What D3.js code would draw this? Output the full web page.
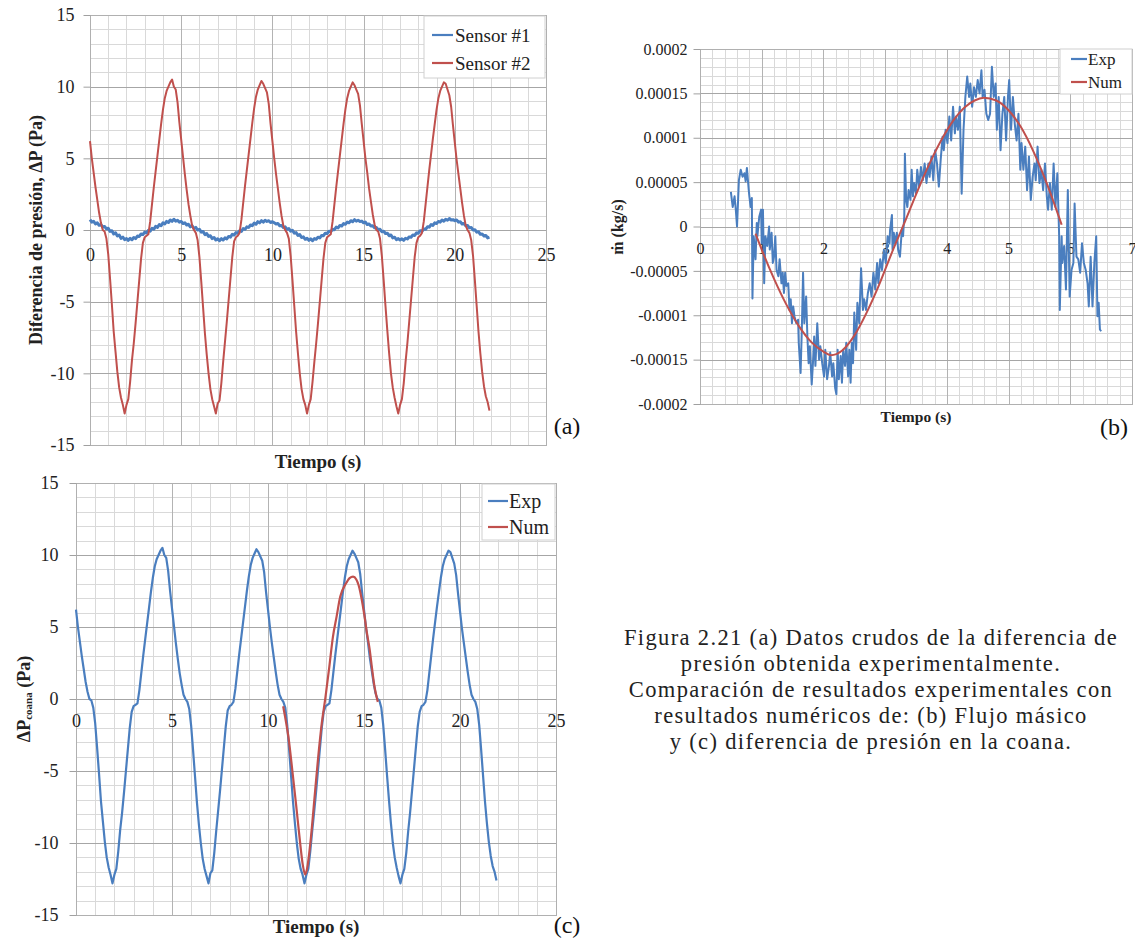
<!DOCTYPE html>
<html><head><meta charset="utf-8">
<script src="https://cdn.jsdelivr.net/npm/d3@7"></script>
<style>
html,body{margin:0;padding:0;background:#fff;}
svg{display:block;}
</style></head><body>
<svg id="fig" width="1135" height="938"></svg>
<script>
// ---------------- DATA ----------------
// Panel (a) & (c): time axis ticks and pressure ticks
const xTicksAC = [0, 5, 10, 15, 20, 25];
const yTicksAC = [-15, -10, -5, 0, 5, 10, 15];
// sample step of the pressure recordings (s)
const sampleStep = 0.1;
// Sensor #1 (Pa), samples every 0.1 s from t = 0
const sensor1 = [
 0.72,0.55,0.6,0.42,0.5,0.33,0.38,0.2,0.25,0.08, 0.12,-0.1,-0.05,-0.28,-0.2,-0.42,-0.35,-0.58,-0.5,-0.68,
 -0.6,-0.72,-0.58,-0.68,-0.52,-0.6,-0.42,-0.45,-0.28,-0.32, -0.15,-0.2,-0.02,-0.08,0.12,0.05,0.25,0.18,0.38,0.3,
 0.5,0.42,0.6,0.52,0.7,0.6,0.75,0.62,0.68,0.55,
 0.6,0.45,0.5,0.35,0.4,0.22,0.3,0.1,0.18,0.0, 0.05,-0.15,-0.1,-0.32,-0.25,-0.45,-0.4,-0.6,-0.52,-0.7,
 -0.62,-0.75,-0.6,-0.7,-0.55,-0.62,-0.45,-0.5,-0.3,-0.35, -0.18,-0.22,-0.05,-0.1,0.1,0.05,0.22,0.18,0.35,0.3,
 0.48,0.4,0.58,0.5,0.65,0.55,0.68,0.6,0.65,0.52,
 0.58,0.5,0.42,0.45,0.3,0.32,0.18,0.22,0.05,0.1, -0.08,-0.02,-0.22,-0.18,-0.38,-0.32,-0.52,-0.48,-0.65,-0.58,
 -0.72,-0.62,-0.75,-0.6,-0.65,-0.5,-0.55,-0.38,-0.4,-0.22, -0.25,-0.08,-0.12,0.05,0.02,0.2,0.15,0.32,0.28,0.45,
 0.4,0.55,0.5,0.65,0.58,0.72,0.62,0.68,0.6,0.62,
 0.5,0.55,0.38,0.42,0.28,0.3,0.15,0.18,0.02,0.05, -0.12,-0.08,-0.25,-0.22,-0.4,-0.35,-0.55,-0.5,-0.68,-0.6,
 -0.7,-0.62,-0.72,-0.58,-0.62,-0.48,-0.5,-0.35,-0.38,-0.2, -0.22,-0.05,-0.1,0.08,0.05,0.22,0.2,0.38,0.32,0.5,
 0.45,0.6,0.55,0.7,0.62,0.75,0.68,0.8,0.7,0.72,
 0.65,0.7,0.55,0.58,0.42,0.45,0.3,0.32,0.15,0.18, 0.0,0.02,-0.15,-0.12,-0.3,-0.28,-0.42,-0.38,-0.55,-0.5
];
// Sensor #2 (Pa), samples every 0.1 s from t = 0 (also the "Exp" curve of panel c)
const sensor2 = [
 6.2,5.0,4.0,3.0,2.1,1.2,0.5,0.0,-0.1,-0.6, -1.7,-3.4,-5.2,-7.1,-8.5,-9.9,-11.0,-11.7,-12.2,-12.8,
 -12.2,-11.8,-10.6,-9.1,-7.9,-6.5,-5.0,-3.5,-2.0,-0.9, -0.5,-0.4,-0.3,0.6,1.8,3.0,4.1,5.2,6.3,7.4,
 8.4,9.2,9.7,10.0,10.3,10.5,10.0,9.8,8.9,7.5,
 6.3,5.1,3.9,2.8,1.8,1.0,0.3,0.0,-0.2,-0.7, -1.9,-3.6,-5.4,-7.2,-8.7,-10.0,-11.1,-11.8,-12.3,-12.8,
 -12.1,-11.9,-10.7,-9.2,-7.8,-6.4,-4.9,-3.4,-1.9,-0.8, -0.5,-0.4,-0.2,0.7,1.9,3.1,4.2,5.3,6.4,7.5,
 8.5,9.3,9.8,10.1,10.4,10.2,9.9,9.6,8.8,7.4,
 6.2,5.0,3.9,2.9,1.9,1.0,0.3,0.0,-0.2,-0.6, -1.8,-3.5,-5.3,-7.1,-8.6,-10.0,-11.1,-11.8,-12.2,-12.8,
 -12.2,-11.8,-10.6,-9.2,-7.9,-6.5,-5.0,-3.5,-2.0,-0.9, -0.5,-0.4,-0.3,0.6,1.8,3.0,4.1,5.2,6.3,7.4,
 8.4,9.2,9.7,10.0,10.3,10.1,9.8,9.5,8.7,7.4,
 6.2,5.0,4.0,2.9,2.0,1.1,0.4,0.0,-0.1,-0.6, -1.8,-3.5,-5.3,-7.0,-8.6,-10.0,-11.0,-11.7,-12.3,-12.8,
 -12.2,-11.8,-10.7,-9.2,-7.9,-6.4,-4.9,-3.4,-1.9,-0.9, -0.5,-0.4,-0.2,0.6,1.8,3.0,4.2,5.3,6.4,7.4,
 8.4,9.2,9.7,10.0,10.3,10.2,9.8,9.4,8.6,7.3,
 6.1,4.9,3.9,2.9,1.9,1.0,0.3,0.0,-0.2,-0.7, -1.8,-3.5,-5.3,-7.1,-8.6,-9.9,-10.9,-11.6,-12.0,-12.6
];
const coanaExp = sensor2;
// Panel (c) numerical coana pressure: [t (s), ΔP (Pa)]
const coanaNum = [
 [10.79,-0.5],[10.9,-1.3],[11.07,-2.7],[11.27,-5.0],[11.46,-7.3],[11.65,-9.7],[11.81,-11.5],[11.94,-12.2],
 [12.07,-11.5],[12.23,-9.7],[12.42,-6.9],[12.61,-4.1],[12.8,-1.7],[12.99,0.1],[13.19,2.2],[13.38,4.3],
 [13.57,5.7],[13.76,7.1],[14.05,8.0],[14.25,8.4],[14.43,8.5],[14.6,8.3],[14.72,7.9],[14.87,7.0],
 [15.01,5.9],[15.15,4.6],[15.3,3.4],[15.42,2.1],[15.53,1.0],[15.63,0.3],[15.72,-0.2]
];
// Panel (b): ticks
const xTicksB = [0, 1, 2, 3, 4, 5, 6, 7];
const yTicksB = [-0.0002, -0.00015, -0.0001, -0.00005, 0, 0.00005, 0.0001, 0.00015, 0.0002];
const massUnit = 1e-5; // values below are in 1e-5 kg/s
// Panel (b) experimental mass flow: [t (s), ṁ (1e-5 kg/s)]
const massExp = [
 [0.50,3.9],[0.53,2.2],[0.56,3.4],[0.58,1.9],[0.60,0.0],[0.63,5.2],[0.66,6.4],[0.69,5.6],[0.72,6.0],[0.74,5.1],
 [0.76,6.6],[0.79,4.1],[0.80,3.4],[0.82,2.2],[0.84,3.2],[0.85,-8.1],[0.87,-1.1],[0.90,-3.7],[0.92,0.4],[0.93,-1.1],
 [0.96,1.1],[0.99,1.9],[1.00,-1.9],[1.02,1.9],[1.04,-6.4],[1.06,-1.1],[1.09,-2.2],[1.12,0.0],[1.13,-2.6],[1.16,-0.7],
 [1.18,-4.1],[1.20,-3.4],[1.22,-1.1],[1.24,-4.9],[1.27,-5.6],[1.29,-3.7],[1.32,-6.4],[1.34,-5.2],[1.36,-7.5],[1.38,-5.2],
 [1.40,-6.7],[1.43,-6.4],[1.45,-9.4],[1.47,-8.2],[1.49,-10.9],[1.51,-9.0],[1.53,-10.1],[1.56,-10.9],[1.59,-10.5],[1.60,-13.1],
 [1.63,-16.5],[1.65,-11.6],[1.67,-5.2],[1.69,-10.9],[1.72,-7.9],[1.74,-12.4],[1.76,-15.4],[1.78,-13.5],[1.81,-17.8],[1.83,-15.4],
 [1.85,-12.4],[1.87,-15.7],[1.90,-10.9],[1.93,-15.0],[1.95,-13.5],[1.98,-15.4],[2.01,-16.9],[2.03,-13.9],[2.06,-17.2],[2.09,-15.7],
 [2.11,-14.2],[2.14,-16.9],[2.16,-15.4],[2.19,-18.2],[2.21,-18.9],[2.23,-13.9],[2.25,-17.2],[2.28,-14.6],[2.30,-17.6],[2.32,-13.9],
 [2.35,-15.7],[2.37,-13.1],[2.40,-16.9],[2.42,-13.9],[2.44,-17.6],[2.46,-13.1],[2.48,-15.4],[2.50,-9.7],[2.53,-13.9],[2.55,-8.6],
 [2.58,-10.9],[2.61,-4.7],[2.64,-9.4],[2.66,-8.2],[2.69,-9.4],[2.72,-7.5],[2.75,-6.4],[2.78,-7.9],[2.81,-5.2],[2.84,-7.1],
 [2.87,-4.1],[2.89,-6.4],[2.92,-3.7],[2.95,-4.9],[2.98,-2.6],[3.01,-4.1],[3.04,-1.1],[3.07,-1.9],[3.08,-0.4],[3.11,1.3],
 [3.12,-2.6],[3.14,-0.7],[3.16,-1.9],[3.19,-0.7],[3.21,-2.6],[3.24,-3.4],[3.27,-0.4],[3.29,-1.1],[3.31,1.1],[3.32,8.2],
 [3.34,3.0],[3.36,2.2],[3.38,4.1],[3.41,3.0],[3.43,6.4],[3.45,3.4],[3.47,4.9],[3.50,3.7],[3.52,6.4],[3.55,4.5],
 [3.58,6.7],[3.61,5.2],[3.64,7.1],[3.67,4.9],[3.70,7.1],[3.72,5.6],[3.75,7.9],[3.78,5.2],[3.81,8.6],[3.84,7.1],
 [3.87,4.5],[3.90,7.5],[3.93,10.1],[3.95,8.6],[3.98,10.9],[4.01,9.4],[4.04,12.4],[4.07,9.7],[4.10,13.5],[4.13,10.5],
 [4.15,12.4],[4.18,10.9],[4.21,13.5],[4.24,3.7],[4.27,10.9],[4.30,14.6],[4.33,16.9],[4.36,14.6],[4.38,16.1],[4.41,13.5],
 [4.44,15.7],[4.47,14.6],[4.50,16.5],[4.53,15.0],[4.56,17.6],[4.58,14.6],[4.61,15.4],[4.64,12.7],[4.67,12.0],[4.70,12.7],
 [4.73,18.0],[4.76,14.6],[4.79,16.1],[4.81,10.9],[4.84,14.6],[4.87,8.6],[4.90,12.7],[4.93,14.6],[4.96,9.7],[4.99,14.6],
 [5.01,16.5],[5.04,10.9],[5.07,14.6],[5.10,11.6],[5.13,9.7],[5.16,12.7],[5.19,6.4],[5.21,9.4],[5.24,6.4],[5.27,9.0],
 [5.30,4.1],[5.33,7.9],[5.36,3.0],[5.39,5.6],[5.42,7.1],[5.44,5.2],[5.47,9.0],[5.50,4.9],[5.53,6.4],[5.56,4.1],
 [5.59,7.1],[5.62,3.4],[5.64,1.9],[5.67,4.9],[5.70,1.9],[5.73,7.1],[5.76,2.2],[5.79,6.0],[5.82,-1.1],[5.83,-9.4],
 [5.86,-1.1],[5.87,-4.1],[5.90,-2.2],[5.93,-7.1],[5.96,4.1],[5.99,-7.9],[6.02,-4.9],[6.05,-4.1],[6.07,2.6],[6.10,-3.4],
 [6.13,-3.7],[6.16,-5.2],[6.19,-1.9],[6.22,-4.1],[6.25,-4.9],[6.28,-6.4],[6.30,-9.0],[6.33,-3.4],[6.36,-9.0],[6.39,-4.1],
 [6.42,-1.1],[6.44,-10.1],[6.46,-8.6],[6.48,-11.6],[6.50,-11.8]
];
// Panel (b) numerical mass flow: [t (s), ṁ (1e-5 kg/s)]
const massNum = [
 [0.9,-0.8],[1.0,-2.6],[1.2,-5.9],[1.4,-8.8],[1.6,-11.2],[1.8,-13.0],[2.0,-14.1],[2.12,-14.5],[2.3,-14.0],
 [2.5,-12.3],[2.7,-9.7],[2.9,-6.6],[3.1,-3.1],[3.3,0.2],[3.5,3.6],[3.7,6.8],[3.9,9.6],[4.1,11.9],[4.3,13.5],
 [4.45,14.2],[4.6,14.5],[4.8,14.2],[5.0,13.1],[5.2,11.2],[5.4,8.5],[5.6,5.2],[5.8,1.4],[5.86,0.2]
];
const captionLines = [
 "Figura 2.21 (a) Datos crudos de la diferencia de",
 "presión obtenida experimentalmente.",
 "Comparación de resultados experimentales con",
 "resultados numéricos de: (b) Flujo másico",
 "y (c) diferencia de presión en la coana."
];

// ---------------- DRAWING ----------------
const BLUE = "#4a7ebf", RED = "#c0504d";
const FONT = "'Liberation Serif','Times New Roman',serif";
const svg = d3.select("#fig");
const crisp = v => Math.round(v) + 0.5;
const fmtNum = v => (Math.abs(v) < 1e-12 ? "0" : String(+v.toPrecision(6)));

function panel(p) {
  const g = svg.append("g");
  const x = d3.scaleLinear().domain(p.xDomain).range([p.left, p.right]);
  const y = d3.scaleLinear().domain(p.yDomain).range([p.bottom, p.top]);
  const grid = g.append("g");
  grid.selectAll(".vx").data(p.xMinor).join("line")
    .attr("x1", d => crisp(x(d))).attr("x2", d => crisp(x(d)))
    .attr("y1", p.top).attr("y2", p.bottom).attr("stroke", "#d9d9d9");
  grid.selectAll(".hy").data(p.yMinor).join("line")
    .attr("y1", d => crisp(y(d))).attr("y2", d => crisp(y(d)))
    .attr("x1", p.left).attr("x2", p.right).attr("stroke", "#d9d9d9");
  grid.selectAll(".mx").data(p.xTicks).join("line")
    .attr("x1", d => crisp(x(d))).attr("x2", d => crisp(x(d)))
    .attr("y1", p.top).attr("y2", p.bottom).attr("stroke", "#b3b3b3");
  grid.selectAll(".my").data(p.yTicks).join("line")
    .attr("y1", d => crisp(y(d))).attr("y2", d => crisp(y(d)))
    .attr("x1", p.left).attr("x2", p.right).attr("stroke", "#a6a6a6");
  g.append("rect").attr("x", crisp(p.left)).attr("y", crisp(p.top))
    .attr("width", Math.round(p.right - p.left)).attr("height", Math.round(p.bottom - p.top))
    .attr("fill", "none").attr("stroke", "#b0b0b0");

  // y axis labels
  const gy = g.append("g").attr("transform", `translate(${crisp(p.left)},0)`)
    .call(d3.axisLeft(y).tickValues(p.yTicks).tickFormat(fmtNum).tickSize(7).tickPadding(p.yPad));
  gy.select(".domain").remove();
  gy.attr("font-family", FONT).attr("font-size", p.tickFont);
  gy.selectAll(".tick line").attr("stroke", "#a0a0a0");
  gy.selectAll(".tick text").attr("fill", "#222");
  // x axis labels along y = 0
  const gx = g.append("g").attr("transform", `translate(0,${crisp(y(0))})`)
    .call(d3.axisBottom(x).tickValues(p.xTicks).tickFormat(fmtNum).tickSize(0).tickPadding(p.xPad));
  gx.select(".domain").remove();
  gx.attr("font-family", FONT).attr("font-size", p.tickFont);
  gx.selectAll(".tick text").attr("fill", "#222");

  // titles
  g.append("text").attr("x", p.xTitle[0]).attr("y", p.xTitle[1])
    .attr("text-anchor", "middle").attr("dominant-baseline", "central")
    .attr("font-family", FONT).attr("font-weight", "bold").attr("font-size", p.titleFont)
    .attr("fill", "#222").text("Tiempo (s)");
  const yt = g.append("text").attr("transform", `translate(${p.yTitle[0]},${p.yTitle[1]}) rotate(-90)`)
    .attr("text-anchor", "middle").attr("dominant-baseline", "central")
    .attr("font-family", FONT).attr("font-weight", "bold").attr("font-size", p.yTitleFont)
    .attr("fill", "#222");
  p.yTitleText(yt);

  // series
  const lineGen = d3.line().x(d => x(d[0])).y(d => y(d[1]));
  p.series.forEach(s => {
    g.append("path").datum(s.data).attr("fill", "none").attr("stroke", s.color)
      .attr("stroke-width", s.width).attr("stroke-linejoin", "round")
      .attr("d", lineGen.curve(s.smooth ? d3.curveMonotoneX : d3.curveLinear));
  });

  // legend
  const L = p.legend;
  const lg = g.append("g");
  lg.append("rect").attr("x", L.x).attr("y", L.y).attr("width", L.w).attr("height", L.h)
    .attr("fill", "#fff").attr("stroke", "#d0d0d0");
  p.series.forEach((s, i) => {
    const cy = L.y + L.first + i * L.gap;
    lg.append("line").attr("x1", L.x + L.lx1).attr("x2", L.x + L.lx2)
      .attr("y1", cy).attr("y2", cy).attr("stroke", s.color).attr("stroke-width", 2.2);
    lg.append("text").attr("x", L.x + L.tx).attr("y", cy).attr("dominant-baseline", "central")
      .attr("font-family", FONT).attr("font-size", L.font).attr("fill", "#222").text(s.name);
  });

  // panel letter
  svg.append("text").attr("x", p.letter[0]).attr("y", p.letter[1]).attr("text-anchor", "middle")
    .attr("dominant-baseline", "central").attr("font-family", FONT).attr("font-size", 24)
    .attr("fill", "#111").text(p.letterText);
}

const tSeries = arr => arr.map((v, i) => [i * sampleStep, v]);

// Panel (a)
panel({
  left: 90, right: 546, top: 15, bottom: 445,
  xDomain: [0, 25], yDomain: [-15, 15],
  xMinor: d3.range(0, 26, 1), yMinor: d3.range(-15, 16, 1),
  xTicks: xTicksAC, yTicks: yTicksAC,
  tickFont: 18, yPad: 9, xPad: 18,
  titleFont: 19, yTitleFont: 18,
  xTitle: [318, 461], yTitle: [36, 230],
  yTitleText: t => t.text("Diferencia de presión, ΔP (Pa)"),
  series: [
    {name: "Sensor #1", color: BLUE, width: 3, data: tSeries(sensor1)},
    {name: "Sensor #2", color: RED, width: 2, data: tSeries(sensor2)}
  ],
  legend: {x: 424, y: 16, w: 121, h: 62, first: 19, gap: 28, lx1: 8, lx2: 29, tx: 31, font: 19},
  letter: [567, 426], letterText: "(a)"
});

// Panel (b)
panel({
  left: 700, right: 1132, top: 49, bottom: 404,
  xDomain: [0, 7], yDomain: [-0.0002, 0.0002],
  xMinor: d3.range(0, 7.001, 0.2), yMinor: d3.range(-20, 21, 1).map(v => v * massUnit),
  xTicks: xTicksB, yTicks: yTicksB,
  tickFont: 16, yPad: 6, xPad: 15,
  titleFont: 15.5, yTitleFont: 16,
  xTitle: [916, 416], yTitle: [617, 227],
  yTitleText: t => t.text("ṁ (kg/s)"),
  series: [
    {name: "Exp", color: BLUE, width: 2, data: massExp.map(d => [d[0], d[1] * massUnit])},
    {name: "Num", color: RED, width: 2, smooth: true, data: massNum.map(d => [d[0], d[1] * massUnit])}
  ],
  legend: {x: 1060, y: 49, w: 72, h: 45, first: 10, gap: 23, lx1: 11, lx2: 27, tx: 28, font: 17},
  letter: [1114, 427], letterText: "(b)"
});

// Panel (c)
panel({
  left: 76, right: 556, top: 483, bottom: 915,
  xDomain: [0, 25], yDomain: [-15, 15],
  xMinor: d3.range(0, 26, 1), yMinor: d3.range(-15, 16, 1),
  xTicks: xTicksAC, yTicks: yTicksAC,
  tickFont: 18, yPad: 11, xPad: 15,
  titleFont: 19, yTitleFont: 18,
  xTitle: [316, 926], yTitle: [24, 699],
  yTitleText: t => {
    t.append("tspan").text("ΔP");
    t.append("tspan").attr("font-size", 11).attr("dy", 4).text("coana");
    t.append("tspan").attr("dy", -4).text(" (Pa)");
  },
  series: [
    {name: "Exp", color: BLUE, width: 2.2, data: tSeries(coanaExp)},
    {name: "Num", color: RED, width: 2.2, smooth: true, data: coanaNum}
  ],
  legend: {x: 482, y: 484, w: 73, h: 56, first: 17, gap: 26, lx1: 6, lx2: 26, tx: 27, font: 20},
  letter: [567, 925], letterText: "(c)"
});

// Caption
const cap = svg.append("g");
captionLines.forEach((s, i) => {
  cap.append("text").attr("x", 871).attr("y", 645 + i * 26).attr("text-anchor", "middle")
    .attr("font-family", FONT).attr("font-size", 22.5).attr("letter-spacing", 1.35)
    .attr("fill", "#222").text(s);
});
</script>
</body></html>
